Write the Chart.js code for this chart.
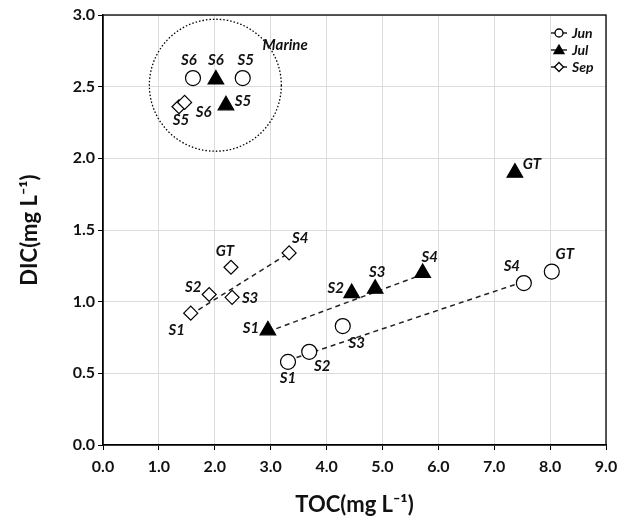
<!DOCTYPE html>
<html>
<head>
<meta charset="utf-8">
<script src="https://cdn.jsdelivr.net/npm/chart.js@4.4.1/dist/chart.umd.min.js"></script>
<style>
  html, body { margin: 0; padding: 0; background: #fff; }
  #grafico { display: block; }
</style>
</head>
<body>
<canvas id="grafico" width="632" height="523"></canvas>
<script>
// dados (TOC x DIC, mg/L)
const nomesPontos = ['S1', 'S2', 'S3', 'S4', 'GT', 'S5', 'S6'];

const junTOC = [3.31, 3.69, 4.29, 7.53, 8.03, 2.50, 1.61];
const junDIC = [0.58, 0.65, 0.83, 1.13, 1.21, 2.56, 2.56];

const julTOC = [2.95, 4.45, 4.87, 5.72, 7.37, 2.20, 2.02];
const julDIC = [0.80, 1.06, 1.09, 1.20, 1.90, 2.37, 2.55];

const sepTOC = [1.57, 1.90, 2.31, 3.33, 2.29, 1.36, 1.46];
const sepDIC = [0.92, 1.05, 1.03, 1.34, 1.24, 2.36, 2.39];

// linhas de tendencia (inicio e fim)
const junTendTOC = [3.31, 7.53];
const junTendDIC = [0.59, 1.14];
const julTendTOC = [2.95, 5.72];
const julTendDIC = [0.79, 1.19];
const sepTendTOC = [1.57, 3.33];
const sepTendDIC = [0.91, 1.34];

// grupo marinho
const marinhoCentro = [2.01, 2.51];
const marinhoTexto = 'Marine';
const marinhoTextoPos = [3.26, 2.79];

const xTicks = [0, 1, 2, 3, 4, 5, 6, 7, 8, 9];
const yTicks = [0, 0.5, 1, 1.5, 2, 2.5, 3];

// deslocamento dos rotulos em px (estilo, nao dado)
const offsetsJun = [[0, 16], [13, 14], [14, 17], [-12, -17], [13, -17], [3, -18], [-4, -18]];
const offsetsJul = [[-17, -2], [-16, -5], [2, -17], [7, -16], [17, -9], [17, -4], [0, -19]];
const offsetsSep = [[-14, 17], [-16, -7], [18, 1], [11, -15], [-6, -16], [2, 13], [19, 10]];

function juntar(xs, ys) {
  const lista = [];
  for (let i = 0; i < xs.length; i++) {
    lista.push({ x: xs[i], y: ys[i] });
  }
  return lista;
}

const fonte = 'Lato, "Open Sans", sans-serif';

const pluginExtras = {
  id: 'extras',
  afterDatasetsDraw(chart) {
    const ctx = chart.ctx;
    const a = chart.chartArea;
    const sx = chart.scales.x;
    const sy = chart.scales.y;

    // circulo pontilhado
    ctx.save();
    ctx.beginPath();
    ctx.setLineDash([1.5, 2]);
    ctx.lineWidth = 1.3;
    ctx.strokeStyle = '#000';
    ctx.arc(sx.getPixelForValue(marinhoCentro[0]), sy.getPixelForValue(marinhoCentro[1]), 66, 0, Math.PI * 2);
    ctx.stroke();
    ctx.setLineDash([]);

    ctx.font = 'italic bold 15px ' + fonte;
    ctx.fillStyle = '#111';
    ctx.textAlign = 'center';
    ctx.textBaseline = 'middle';
    ctx.fillText(marinhoTexto, sx.getPixelForValue(marinhoTextoPos[0]), sy.getPixelForValue(marinhoTextoPos[1]));

    // rotulos dos pontos
    chart.data.datasets.forEach((ds, i) => {
      if (!ds.rotulos) return;
      const meta = chart.getDatasetMeta(i);
      meta.data.forEach((p, j) => {
        const off = ds.offsets[j];
        ctx.fillText(ds.rotulos[j], p.x + off[0], p.y + off[1]);
      });
    });

    // moldura
    ctx.lineWidth = 1.3;
    ctx.strokeRect(a.left, a.top, a.right - a.left, a.bottom - a.top);

    // legenda
    const series = chart.data.datasets.filter(d => d.rotulos);
    series.forEach((ds, i) => {
      const yy = a.top + 18 + i * 17;
      const x0 = a.right - 55;
      const xc = x0 + 8;
      ctx.beginPath();
      ctx.lineWidth = 1.3;
      ctx.moveTo(x0, yy);
      ctx.lineTo(x0 + 16, yy);
      ctx.stroke();
      ctx.beginPath();
      if (ds.pointStyle === 'circle') {
        ctx.arc(xc, yy, 4, 0, Math.PI * 2);
      } else if (ds.pointStyle === 'triangle') {
        ctx.moveTo(xc, yy - 5);
        ctx.lineTo(xc + 5, yy + 3.5);
        ctx.lineTo(xc - 5, yy + 3.5);
        ctx.closePath();
      } else {
        ctx.moveTo(xc, yy - 4.5);
        ctx.lineTo(xc + 4.5, yy);
        ctx.lineTo(xc, yy + 4.5);
        ctx.lineTo(xc - 4.5, yy);
        ctx.closePath();
      }
      ctx.fillStyle = ds.backgroundColor;
      ctx.fill();
      ctx.stroke();
      ctx.fillStyle = '#111';
      ctx.font = 'italic bold 14px ' + fonte;
      ctx.textAlign = 'left';
      ctx.fillText(ds.label, x0 + 21, yy);
    });
    ctx.restore();
  }
};

function serie(label, xs, ys, estilo, cor, raio, offsets) {
  return {
    label: label,
    data: juntar(xs, ys),
    pointStyle: estilo,
    backgroundColor: cor,
    borderColor: '#000',
    borderWidth: 1.2,
    pointRadius: raio,
    pointHoverRadius: raio,
    showLine: false,
    rotulos: nomesPontos,
    offsets: offsets,
    order: 0
  };
}

function tendencia(xs, ys) {
  return {
    label: '',
    data: juntar(xs, ys),
    showLine: true,
    borderColor: '#222',
    borderWidth: 1.5,
    borderDash: [5, 4],
    pointRadius: 0,
    pointHoverRadius: 0,
    fill: false,
    order: 1
  };
}

new Chart(document.getElementById('grafico'), {
  type: 'scatter',
  data: {
    datasets: [
      serie('Jun', junTOC, junDIC, 'circle', '#ffffff', 7.5, offsetsJun),
      serie('Jul', julTOC, julDIC, 'triangle', '#000000', 9, offsetsJul),
      serie('Sep', sepTOC, sepDIC, 'rectRot', '#ffffff', 7, offsetsSep),
      tendencia(junTendTOC, junTendDIC),
      tendencia(julTendTOC, julTendDIC),
      tendencia(sepTendTOC, sepTendDIC)
    ]
  },
  options: {
    responsive: false,
    animation: false,
    events: [],
    layout: {
      padding: { top: 15, right: 26, left: 0, bottom: 0 }
    },
    plugins: {
      legend: { display: false },
      tooltip: { enabled: false }
    },
    scales: {
      x: {
        type: 'linear',
        min: 0,
        max: 9,
        afterFit: (s) => { s.height = 78; },
        afterBuildTicks: (s) => { s.ticks = xTicks.map(v => ({ value: v })); },
        grid: { color: '#dcdcdc', lineWidth: 1, tickColor: '#000', tickLength: 5 },
        border: { color: '#000', width: 1.3 },
        ticks: {
          padding: 7,
          color: '#111',
          font: { family: fonte, size: 16, weight: 'bold' },
          callback: (v) => Number(v).toFixed(1)
        },
        title: {
          display: true,
          text: 'TOC(mg L⁻¹)',
          color: '#111',
          font: { family: fonte, size: 22, weight: 'bold' },
          padding: { top: 5, bottom: 5 }
        }
      },
      y: {
        type: 'linear',
        min: 0,
        max: 3,
        afterFit: (s) => { s.width = 103; },
        afterBuildTicks: (s) => { s.ticks = yTicks.map(v => ({ value: v })); },
        grid: { color: '#dcdcdc', lineWidth: 1, tickColor: '#000', tickLength: 5 },
        border: { color: '#000', width: 1.3 },
        ticks: {
          padding: 3,
          color: '#111',
          font: { family: fonte, size: 16, weight: 'bold' },
          callback: (v) => Number(v).toFixed(1)
        },
        title: {
          display: true,
          text: 'DIC(mg L⁻¹)',
          color: '#111',
          font: { family: fonte, size: 22, weight: 'bold' },
          padding: { top: 17, bottom: 17 }
        }
      }
    }
  },
  plugins: [pluginExtras]
});
</script>
</body>
</html>
